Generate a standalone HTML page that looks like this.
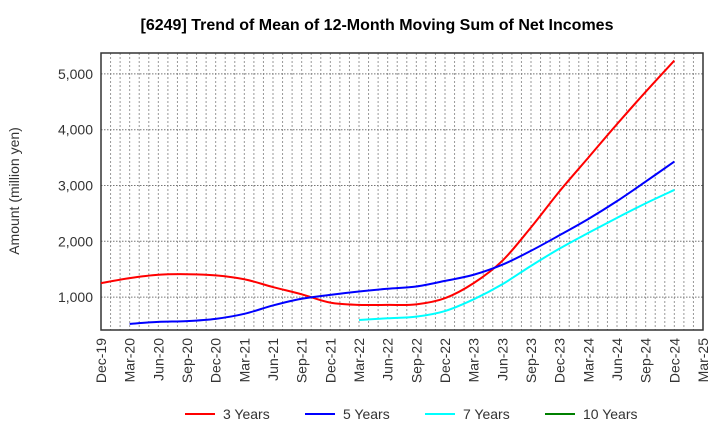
<!DOCTYPE html>
<html><head><meta charset="utf-8"><style>
body{margin:0;background:#fff;font-family:"Liberation Sans",sans-serif}
</style></head><body>
<svg id="c" width="720" height="440" xmlns="http://www.w3.org/2000/svg" font-family="Liberation Sans, sans-serif">
<text x="377" y="30" text-anchor="middle" font-size="16" font-weight="bold">[6249]  Trend of Mean of 12-Month Moving Sum of Net Incomes</text>
<text transform="translate(19,191) rotate(-90)" text-anchor="middle" font-size="14" fill="#333">Amount (million yen)</text>
<g id="grid"></g><g id="axes"></g><g id="series"></g><g id="legend"></g>
</svg>
<script>
const xLabels=["Dec-19","Mar-20","Jun-20","Sep-20","Dec-20","Mar-21","Jun-21","Sep-21","Dec-21","Mar-22","Jun-22","Sep-22","Dec-22","Mar-23","Jun-23","Sep-23","Dec-23","Mar-24","Jun-24","Sep-24","Dec-24","Mar-25"];
const yTicks=[1000,2000,3000,4000,5000];
const s3=[1250,1340,1400,1410,1390,1320,1180,1050,900,860,860,870,980,1250,1650,2250,2900,3500,4100,4680,5240];
const s5=[null,520,555,570,610,700,850,970,1040,1100,1150,1190,1290,1400,1580,1830,2110,2400,2720,3070,3430];
const s7=[null,null,null,null,null,null,null,null,null,590,620,650,750,960,1230,1560,1870,2150,2420,2680,2920];
const s10=[];
const L=101,R=703,T=53,B=330,ymin=410,ymax=5375;
const X=i=>L+(R-L)*i/21, Y=v=>B-(B-T)*(v-ymin)/(ymax-ymin);
const ns="http://www.w3.org/2000/svg";
function mk(t,a,p){const e=document.createElementNS(ns,t);for(const k in a)e.setAttribute(k,a[k]);p.appendChild(e);return e;}
const g=document.getElementById('grid'),ax=document.getElementById('axes'),se=document.getElementById('series'),lg=document.getElementById('legend');
for(let m=1;m<63;m++){const x=L+(R-L)*m/63;const l=mk('line',{x1:x,x2:x,y1:T,y2:B,stroke:'#999','stroke-dasharray':'2,2','stroke-width':1},g);

}
yTicks.forEach(v=>{const y=Y(v);const l=mk('line',{x1:L,x2:R,y1:y,y2:y,stroke:'#777','stroke-dasharray':'1.5,1.5'},g);


const t=mk('text',{x:L-8,y:y+5,'text-anchor':'end','font-size':14,fill:'#333'},ax);t.textContent=v.toLocaleString('en-US');

});
const fr=mk('rect',{x:L,y:T,width:R-L,height:B-T,fill:'none',stroke:'#333','stroke-width':1.5},ax);


xLabels.forEach((s,i)=>{const x=X(i);const t=mk('text',{transform:`translate(${x+5},${B+8}) rotate(-90)`,'text-anchor':'end','font-size':14,fill:'#333'},ax);t.textContent=s;

});
function path(arr){const p=[];arr.forEach((v,i)=>{if(v!=null)p.push([X(i),Y(v)])});if(p.length<2)return '';
let d=`M${p[0][0]},${p[0][1]}`;for(let i=0;i<p.length-1;i++){const p0=p[i-1]||p[i],p1=p[i],p2=p[i+1],p3=p[i+2]||p2;
d+=` C${p1[0]+(p2[0]-p0[0])/6},${p1[1]+(p2[1]-p0[1])/6} ${p2[0]-(p3[0]-p1[0])/6},${p2[1]-(p3[1]-p1[1])/6} ${p2[0]},${p2[1]}`;}return d;}
const series=[[s3,'#ff0000','3 Years','series-3-years'],[s5,'#0000ff','5 Years','series-5-years'],[s7,'#00ffff','7 Years','series-7-years'],[s10,'#008000','10 Years','series-10-years']];
const lx=[185,305,425,545];
series.forEach((s,k)=>{const d=path(s[0]);if(d){const p=mk('path',{d,fill:'none',stroke:s[1],'stroke-width':2},se);

}
const l=mk('line',{x1:lx[k],x2:lx[k]+30,y1:414,y2:414,stroke:s[1],'stroke-width':2},lg);


const t=mk('text',{x:lx[k]+38,y:419,'font-size':14,fill:'#333'},lg);t.textContent=s[2];

});
</script>
</body></html>
